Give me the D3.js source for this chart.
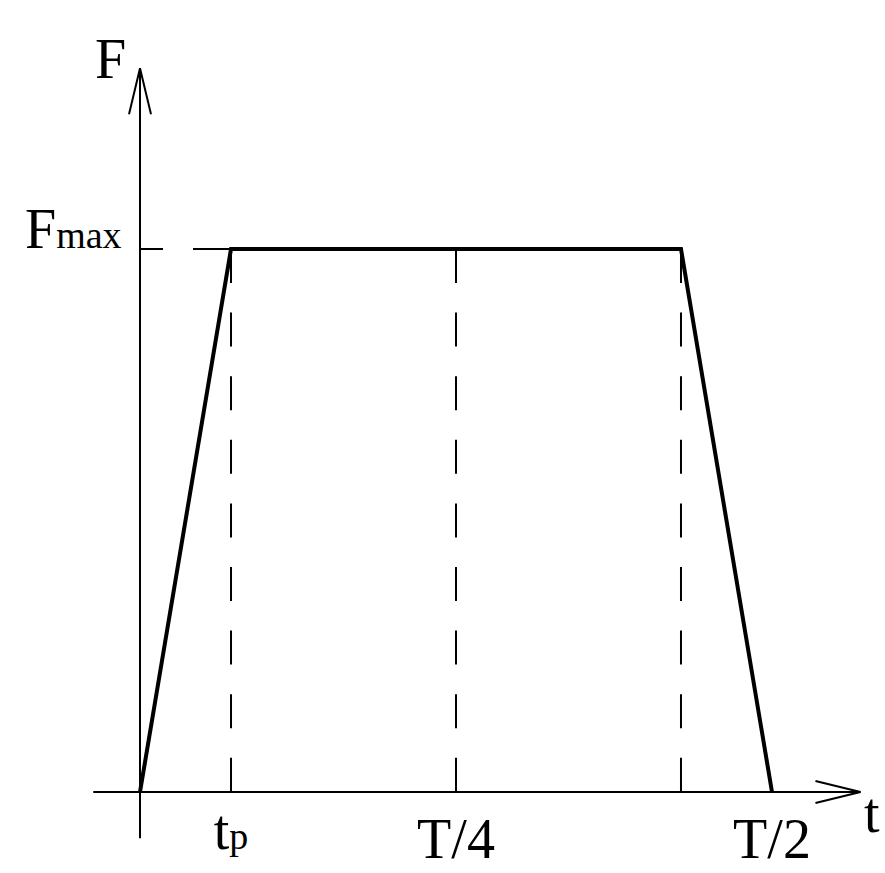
<!DOCTYPE html>
<html>
<head>
<meta charset="utf-8">
<script src="https://cdn.jsdelivr.net/npm/d3@7"></script>
<style>
  html, body { margin: 0; padding: 0; background: #fff; }
  text { font-family: "Liberation Serif", "Times New Roman", serif; fill: #000; }
</style>
</head>
<body>
<svg id="chart" width="885" height="873"></svg>
<script>
// force pulse over half a period, time in units of T
var pulseTimes = [0, 0.072, 0.428, 0.5];
var pulseForce = [0, 1, 1, 0];
var guideTimes = [0.072, 0.25, 0.428];
var tickTimes = [0.072, 0.25, 0.5];
var tickLabels = [["t", "p"], ["T/4", ""], ["T/2", ""]];
var fMax = 1;

const svg = d3.select('#chart');

var x = d3.scaleLinear()
    .domain([0, 0.5])
    .range([140, 772]);
var y = d3.scaleLinear()
    .domain([0, 1])
    .range([792, 249]);

// axes
svg.append("line")
    .attr("x1", x(-0.037)).attr("x2", x(0.57))
    .attr("y1", y(0)).attr("y2", y(0))
    .attr("stroke", "#000").attr("stroke-width", 2);
svg.append("line")
    .attr("x1", x(0)).attr("x2", x(0))
    .attr("y1", y(-0.085)).attr("y2", y(1.333))
    .attr("stroke", "#000").attr("stroke-width", 2);

// arrow heads
svg.append("path")
    .attr("d", `M${x(0.57) - 45},${y(0) - 11}L${x(0.57)},${y(0)}L${x(0.57) - 45},${y(0) + 11}`)
    .attr("fill", "none").attr("stroke", "#000").attr("stroke-width", 2);
svg.append("path")
    .attr("d", `M${x(0) - 11},${y(1.333) + 46}L${x(0)},${y(1.333)}L${x(0) + 11},${y(1.333) + 46}`)
    .attr("fill", "none").attr("stroke", "#000").attr("stroke-width", 2);

// dashed guides
svg.selectAll(".guide")
    .data(guideTimes)
    .enter()
    .append("line")
    .attr("class", "guide")
    .attr("x1", d => x(d)).attr("x2", d => x(d))
    .attr("y1", y(fMax)).attr("y2", y(0))
    .attr("stroke", "#000").attr("stroke-width", 2)
    .attr("stroke-dasharray", "34,29.6");
svg.append("line")
    .attr("x1", x(pulseTimes[1])).attr("x2", x(0))
    .attr("y1", y(fMax)).attr("y2", y(fMax))
    .attr("stroke", "#000").attr("stroke-width", 2)
    .attr("stroke-dasharray", "38,30");

// pulse
var line = d3.line()
    .x((d, i) => x(pulseTimes[i]))
    .y(d => y(d));
svg.append("path")
    .datum(pulseForce)
    .attr("d", line)
    .attr("fill", "none")
    .attr("stroke", "#000")
    .attr("stroke-width", 4)
    .attr("stroke-linejoin", "miter");

// tick labels
var lbl = svg.selectAll(".tlabel")
    .data(tickTimes)
    .enter()
    .append("text")
    .attr("class", "tlabel")
    .attr("x", d => x(d))
    .attr("y", 858)
    .attr("text-anchor", "middle")
    .style("font-size", "56px");
lbl.append("tspan").text((d, i) => tickLabels[i][0]);
lbl.append("tspan")
    .style("font-size", "38px")
    .text((d, i) => tickLabels[i][1]);
lbl.filter((d, i) => i == 0).attr("y", 849);

// axis names
svg.append("text")
    .attr("x", 95).attr("y", 78)
    .style("font-size", "56px")
    .text("F");
svg.append("text")
    .attr("x", 864).attr("y", 832)
    .style("font-size", "56px")
    .text("t");
var fm = svg.append("text")
    .attr("x", 25).attr("y", y(fMax) - 1)
    .style("font-size", "56px");
fm.append("tspan").text("F");
fm.append("tspan").style("font-size", "38px").text("max");
</script>
</body>
</html>
